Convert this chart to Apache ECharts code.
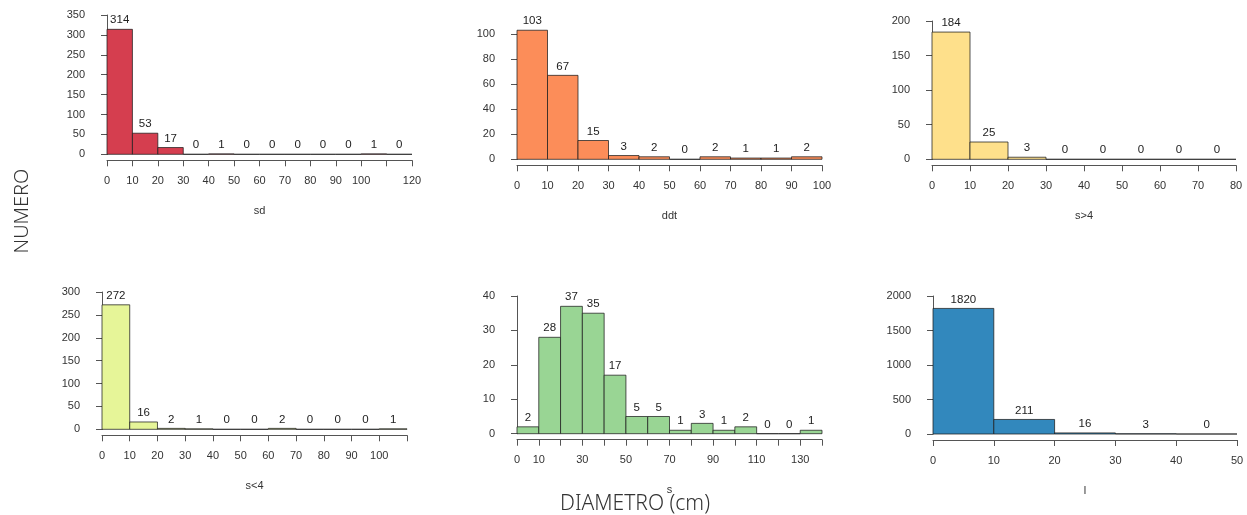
<!DOCTYPE html>
<html>
<head>
<meta charset="utf-8">
<script src="https://cdn.jsdelivr.net/npm/echarts@6/dist/echarts.min.js"></script>
<style>
html,body{margin:0;padding:0;background:#fff;}
#chart{width:1247px;height:515px;}
</style>
</head>
<body>
<div id="chart"></div>
<script>
// ---- data (bin width 10 cm, bins start at 0) ----
const binWidth = 10;
const sdCounts   = [314, 53, 17, 0, 1, 0, 0, 0, 0, 0, 1, 0];
const ddtCounts  = [103, 67, 15, 3, 2, 0, 2, 1, 1, 2];
const sGt4Counts = [184, 25, 3, 0, 0, 0, 0, 0];
const sLt4Counts = [272, 16, 2, 1, 0, 0, 2, 0, 0, 0, 1];
const sCounts    = [2, 28, 37, 35, 17, 5, 5, 1, 3, 1, 2, 0, 0, 1];
const lCounts    = [1820, 211, 16, 3, 0];

const panelNames = ['sd', 'ddt', 's>4', 's<4', 's', 'l'];
const panelColors = ['#D53E4F', '#FC8D59', '#FEE08B', '#E6F598', '#99D594', '#3288BD'];

// x tick labels shown (ticks every 10)
const sdXLabels   = [0, 10, 20, 30, 40, 50, 60, 70, 80, 90, 100, 120];
const ddtXLabels  = [0, 10, 20, 30, 40, 50, 60, 70, 80, 90, 100];
const sGt4XLabels = [0, 10, 20, 30, 40, 50, 60, 70, 80];
const sLt4XLabels = [0, 10, 20, 30, 40, 50, 60, 70, 80, 90, 100];
const sXLabels    = [0, 10, 30, 50, 70, 90, 110, 130];
const lXLabels    = [0, 10, 20, 30, 40, 50];

// y axis ranges (max, interval)
const yMax      = [350, 100, 200, 300, 40, 2000];
const yInterval = [50, 20, 50, 50, 10, 500];

const yLabel = 'NUMERO';
const xLabel = 'DIAMETRO (cm)';

// ---- layout ----
const counts = [sdCounts, ddtCounts, sGt4Counts, sLt4Counts, sCounts, lCounts];
const xLabelSets = [sdXLabels, ddtXLabels, sGt4XLabels, sLt4XLabels, sXLabels, lXLabels];
const grids = [
  {left: 107, top: 15,  width: 305, height: 139.3},
  {left: 517, top: 34,  width: 305, height: 125.3},
  {left: 932, top: 21,  width: 304, height: 138.3},
  {left: 102, top: 292, width: 305, height: 137.3},
  {left: 517, top: 296, width: 305, height: 137.7},
  {left: 933, top: 296, width: 304, height: 138}
];
const FONT = 'Liberation Sans, Arial, sans-serif';

const option = {
  animation: false,
  backgroundColor: '#fff',
  grid: grids.map(g => Object.assign({containLabel: false}, g)),
  xAxis: counts.map((c, i) => ({
    type: 'value', gridIndex: i, min: 0, max: c.length * binWidth, interval: binWidth,
    offset: 6,
    name: panelNames[i], nameLocation: 'middle', nameGap: 45,
    nameTextStyle: {fontFamily: FONT, fontSize: 11, color: '#333'},
    axisLine: {show: true, onZero: false, lineStyle: {color: '#555', width: 1}},
    axisTick: {show: true, length: 6, lineStyle: {color: '#555'}},
    splitLine: {show: false},
    axisLabel: {
      show: true, margin: 15, fontFamily: FONT, fontSize: 11, color: '#333',
      showMinLabel: true, showMaxLabel: true, hideOverlap: false,
      formatter: (v) => xLabelSets[i].indexOf(Math.round(v)) >= 0 ? String(Math.round(v)) : ''
    }
  })),
  yAxis: counts.map((c, i) => ({
    type: 'value', gridIndex: i, min: 0, max: yMax[i], interval: yInterval[i],
    offset: 12,
    axisLine: {show: true, lineStyle: {color: '#555', width: 1}},
    axisTick: {show: true, length: 6, lineStyle: {color: '#555'}},
    splitLine: {show: false},
    axisLabel: {show: true, margin: 10, fontFamily: FONT, fontSize: 11, color: '#333',
      showMinLabel: true, showMaxLabel: true, formatter: (v) => String(v)}
  })),
  series: counts.map((c, i) => ({
    type: 'custom', xAxisIndex: i, yAxisIndex: i, clip: false,
    data: c.map((v, k) => [k * binWidth, (k + 1) * binWidth, v]),
    encode: {x: [0, 1], y: 2},
    renderItem: function (params, api) {
      const p0 = api.coord([api.value(0), 0]);
      const p1 = api.coord([api.value(1), api.value(2)]);
      return {
        type: 'group',
        children: [
          {type: 'rect',
           shape: {x: p0[0], y: p1[1], width: p1[0] - p0[0], height: p0[1] - p1[1]},
           style: {fill: panelColors[i], stroke: 'rgba(30,30,30,0.75)', lineWidth: 1}},
          {type: 'text',
           style: {text: String(api.value(2)), x: (p0[0] + p1[0]) / 2, y: p1[1] - 3,
                   textAlign: 'center', textVerticalAlign: 'bottom',
                   fontFamily: FONT, fontSize: 11.5, fill: '#222'}}
        ]
      };
    }
  })),
  graphic: [
    {type: 'text', x: 22, y: 211, rotation: Math.PI / 2,
     style: {text: yLabel, fontFamily: 'Noto Sans', fontWeight: 300, fontSize: 20, fill: '#333',
             textAlign: 'center', textVerticalAlign: 'middle'}},
    {type: 'text', x: 635, y: 504,
     style: {text: xLabel, fontFamily: 'Noto Sans', fontWeight: 300, fontSize: 21, fill: '#333',
             textAlign: 'center', textVerticalAlign: 'middle'}}
  ]
};

const chart = echarts.init(document.getElementById('chart'), null, {renderer: 'canvas'});
chart.setOption(option);
</script>
</body>
</html>
